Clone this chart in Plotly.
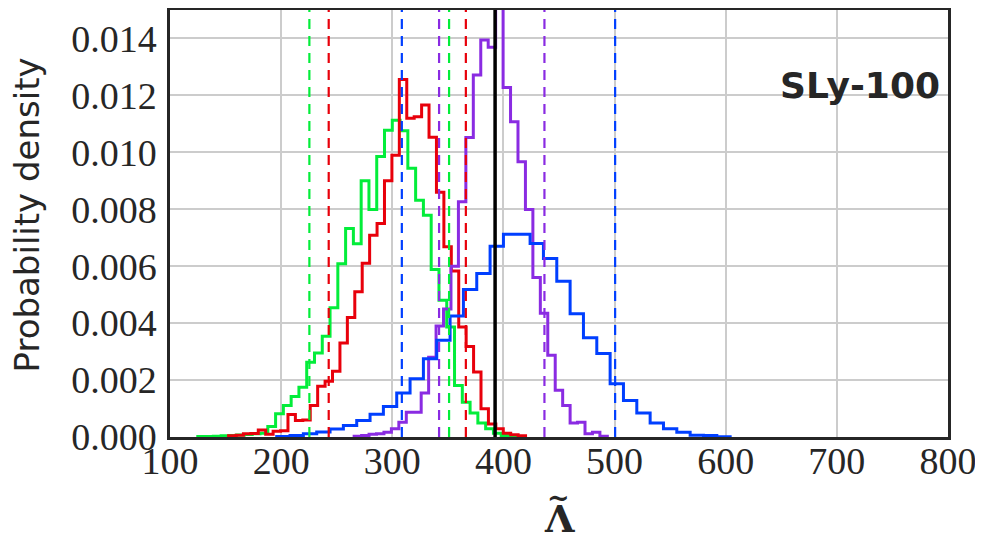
import numpy as np
import plotly.graph_objects as go

# ---------------- data ----------------
green_start, green_width = 125.0, 7.0
green_heights = [0.00002, 0.00002, 0.00003, 0.00004, 0.00005, 0.00007, 0.00009, 0.00011,
                 0.00013, 0.00037, 0.00082, 0.00111, 0.00142, 0.00175, 0.00263, 0.00295,
                 0.00354, 0.00454, 0.00609, 0.00732, 0.00679, 0.00900, 0.00799, 0.00985,
                 0.01078, 0.01113, 0.01076, 0.00944, 0.00832, 0.00779, 0.00588, 0.00480,
                 0.00386, 0.00181, 0.00122, 0.00084, 0.00049, 0.00029, 0.00013, 0.00005,
                 0.00002]

red_start, red_width = 152.7, 6.68
red_heights = [0.00004, 0.00006, 0.00011, 0.00012, 0.00025, 0.00010, 0.00020, 0.00022,
               0.00079, 0.00058, 0.00060, 0.00111, 0.00178, 0.00196, 0.00231, 0.00330,
               0.00420, 0.00510, 0.00610, 0.00709, 0.00750, 0.00900, 0.00990, 0.01256,
               0.01120, 0.01125, 0.01166, 0.01053, 0.00860, 0.00668, 0.00583, 0.00386,
               0.00318, 0.00228, 0.00099, 0.00046, 0.00029, 0.00013, 0.00008, 0.00004]

purple_start, purple_width = 265.7, 6.70
purple_heights = [0.00003, 0.00005, 0.00010, 0.00011, 0.00017, 0.00029, 0.00052, 0.00087,
                  0.00087, 0.00155, 0.00280, 0.00390, 0.00450, 0.00600, 0.00826, 0.01052,
                  0.01272, 0.01395, 0.01369, 0.01620, 0.01228, 0.01107, 0.00967, 0.00799,
                  0.00560, 0.00435, 0.00287, 0.00164, 0.00111, 0.00049, 0.00052, 0.00011,
                  0.00017, 0.00003]

blue_start, blue_width = 196.0, 12.0
blue_heights = [0.00002, 0.00005, 0.00011, 0.00018, 0.00028, 0.00040, 0.00058, 0.00080,
                0.00107, 0.00155, 0.00205, 0.00275, 0.00340, 0.00425, 0.00518, 0.00574,
                0.00670, 0.00712, 0.00712, 0.00680, 0.00627, 0.00547, 0.00433, 0.00349,
                0.00293, 0.00187, 0.00128, 0.00084, 0.00049, 0.00029, 0.00017, 0.00006,
                0.00005, 0.00001]

# credible-interval bounds (dashed) and injected value (solid)
green_bounds = [225.4, 351.1]
red_bounds = [242.8, 366.2]
blue_bounds = [308.6, 500.5]
purple_bounds = [342.1, 436.9]
true_value = 392.5

x_ticks = [100, 200, 300, 400, 500, 600, 700, 800]
y_ticks = [0.000, 0.002, 0.004, 0.006, 0.008, 0.010, 0.012, 0.014]

GREEN = "#03ED3A"
RED = "#E8000B"
BLUE = "#003FFF"
PURPLE = "#8A2BE2"
INK = "#262626"

# ---------------- figure ----------------
fig = go.Figure()


def step_trace(start, width, heights, color):
    edges = start + width * np.arange(len(heights) + 1)
    xs = [edges[0]] + list(edges)
    ys = [0.0] + list(heights) + [0.0]
    return go.Scatter(x=xs, y=ys, mode="lines", line=dict(color=color, width=3, shape="hv"),
                      showlegend=False, hoverinfo="skip", cliponaxis=True)


for xv, col in [(green_bounds, GREEN), (red_bounds, RED), (blue_bounds, BLUE), (purple_bounds, PURPLE)]:
    for v in xv:
        fig.add_shape(type="line", xref="x", yref="y", x0=v, x1=v, y0=0, y1=0.015,
                      line=dict(color=col, width=2.2, dash="10px,7px"), layer="above")

fig.add_trace(step_trace(green_start, green_width, green_heights, GREEN))
fig.add_trace(step_trace(red_start, red_width, red_heights, RED))
fig.add_trace(step_trace(purple_start, purple_width, purple_heights, PURPLE))
fig.add_trace(step_trace(blue_start, blue_width, blue_heights, BLUE))

fig.add_shape(type="line", xref="x", yref="y", x0=true_value, x1=true_value, y0=0, y1=0.015,
              line=dict(color="black", width=3.5), layer="above")

fig.add_annotation(x=1, y=1, xref="paper", yref="paper", xanchor="right", yanchor="middle",
                   xshift=-6, yshift=-75,
                   text="<b>SLy-100</b>", showarrow=False,
                   font=dict(family="DejaVu Sans", size=36, color=INK))

# x-axis title: Lambda with a tilde accent above it
fig.add_annotation(x=0.5, y=0, xref="paper", yref="paper", xanchor="center", yanchor="middle",
                   yshift=-81, text="<b>Λ</b>", showarrow=False,
                   font=dict(family="DejaVu Serif", size=38, color=INK))
fig.add_annotation(x=0.5, y=0, xref="paper", yref="paper", xanchor="center", yanchor="middle",
                   yshift=-60, xshift=-1, text="<b>~</b>", showarrow=False,
                   font=dict(family="DejaVu Serif", size=27, color=INK))
fig.add_annotation(x=0, y=0.5, xref="paper", yref="paper", xanchor="center", yanchor="middle",
                   xshift=-144, yshift=8, textangle=-90, text="Probability density", showarrow=False,
                   font=dict(family="DejaVu Sans", size=34, color=INK))

axis_common = dict(showgrid=True, gridcolor="#cccccc", gridwidth=2, zeroline=False,
                   showline=True, linecolor=INK, linewidth=2.5, mirror=True, automargin=False,
                   ticks="", tickfont=dict(family="Liberation Serif", size=38, color=INK))

fig.update_xaxes(range=[100, 800], tickvals=x_ticks, ticktext=[str(t) for t in x_ticks],
                 ticklabelstandoff=-11, **axis_common)
fig.update_yaxes(range=[0, 0.015], tickvals=y_ticks, ticktext=[f"{t:.3f}" for t in y_ticks],
                 ticklabelstandoff=3, **axis_common)

# the page body has an 8px margin; the figure is sized to fit the 983x536 window
fig.update_layout(width=975, height=528, plot_bgcolor="white", paper_bgcolor="white",
                  margin=dict(l=162, r=35, t=2, b=99, autoexpand=False), showlegend=False)

fig.write_html("out.html")
